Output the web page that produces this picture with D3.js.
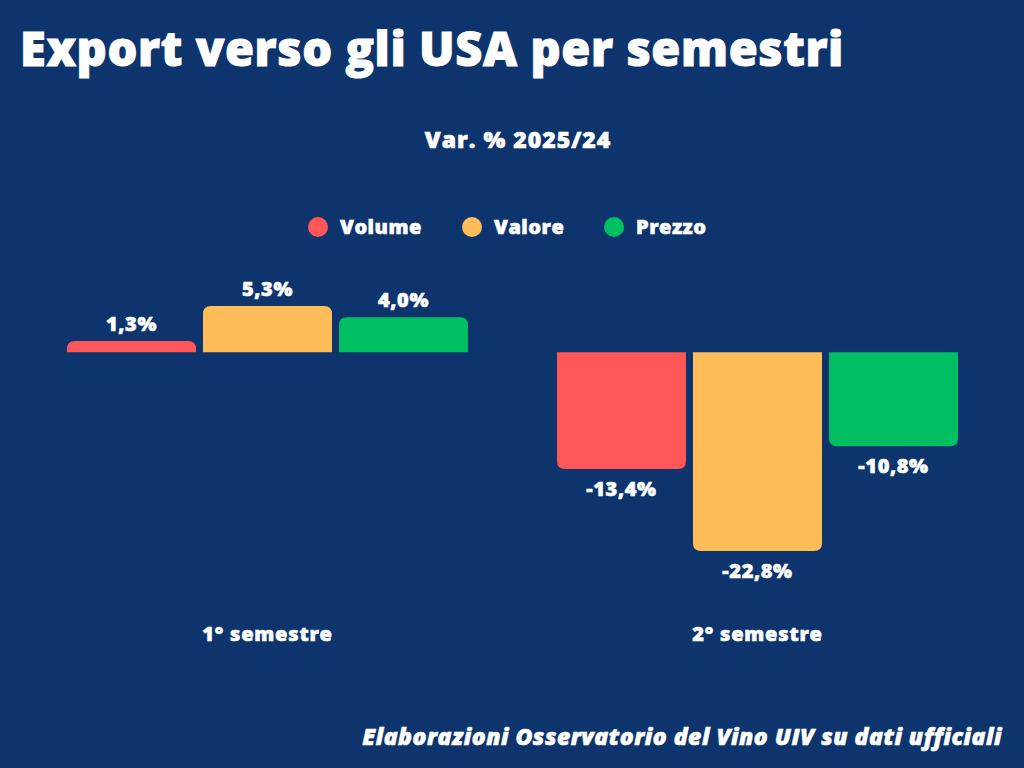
<!DOCTYPE html>
<html>
<head>
<meta charset="utf-8">
<script src="https://cdn.jsdelivr.net/npm/d3@7"></script>
<style>
  html, body { margin: 0; padding: 0; background: #0d346d; }
  svg { display: block; font-family: "Open Sans", sans-serif; }
  .t { fill: #fff; stroke: #fff; font-weight: 800; paint-order: stroke; }
</style>
</head>
<body>
<svg width="1024" height="768"></svg>
<script>
const semestri = ["1° semestre", "2° semestre"];
const serie = ["Volume", "Valore", "Prezzo"];
const colori = ["#ff5757", "#ffbd59", "#00bf63"];
// variazioni % per semestre, in ordine Volume, Valore, Prezzo
const primoSem = [1.3, 5.3, 4.0];
const secondoSem = [-13.4, -22.8, -10.8];

const valori = [primoSem, secondoSem];
const data = [];
semestri.forEach((s, i) => {
  serie.forEach((k, j) => data.push({sem: s, serie: k, value: valori[i][j]}));
});

const svg = d3.select("svg");
const W = 1024, H = 768;
svg.append("rect").attr("width", W).attr("height", H).attr("fill", "#0d346d");

// titolo
svg.append("text").classed("t", true)
  .attr("x", 20).attr("y", 66)
  .style("font-size", "47px").style("letter-spacing", "0.6px").style("stroke-width", "1px")
  .text("Export verso gli USA per semestri");

svg.append("text").classed("t", true)
  .attr("x", 518).attr("y", 148)
  .attr("text-anchor", "middle")
  .style("font-size", "23px").style("letter-spacing", "1px").style("stroke-width", "0.6px")
  .text("Var. % 2025/24");

// legenda
const legX = [318, 472, 614];
const leg = svg.append("g").selectAll("g").data(serie).enter().append("g")
  .attr("transform", (d, i) => `translate(${legX[i]},227)`);
leg.append("circle").attr("r", 10).attr("fill", (d, i) => colori[i]);
leg.append("text").classed("t", true)
  .attr("x", 22).attr("y", 7)
  .style("font-size", "20px").style("letter-spacing", "0.5px").style("stroke-width", "0.6px")
  .text(d => d);

// scale
const x0 = d3.scaleBand().domain(semestri).range([67, 958]).paddingInner(0.1816);
const x1 = d3.scaleBand().domain(serie).range([0, x0.bandwidth()]).paddingInner(0.0515);
const y = d3.scaleLinear().domain([-22.8, 5.3]).range([551, 306]);
const color = d3.scaleOrdinal().domain(serie).range(colori);

// barra con angoli arrotondati solo sul lato esterno
function barPath(d) {
  const x = x0(d.sem) + x1(d.serie), w = x1.bandwidth();
  const y0 = y(0), y1 = y(d.value);
  const r = Math.min(8, Math.abs(y1 - y0));
  const dir = d.value >= 0 ? 1 : -1;
  const p = d3.path();
  p.moveTo(x, y0);
  p.lineTo(x, y1 + dir * r);
  p.quadraticCurveTo(x, y1, x + r, y1);
  p.lineTo(x + w - r, y1);
  p.quadraticCurveTo(x + w, y1, x + w, y1 + dir * r);
  p.lineTo(x + w, y0);
  p.closePath();
  return p.toString();
}

svg.append("g").selectAll("path").data(data).enter().append("path")
  .attr("d", barPath)
  .attr("fill", d => color(d.serie));

const fmt = v => d3.format(".1f")(v).replace("−", "-").replace(".", ",") + "%";

svg.append("g").selectAll("text").data(data).enter().append("text").classed("t", true)
  .attr("x", d => x0(d.sem) + x1(d.serie) + x1.bandwidth() / 2)
  .attr("y", d => d.value >= 0 ? y(d.value) - 10 : y(d.value) + 27)
  .attr("text-anchor", "middle")
  .style("font-size", "20px").style("letter-spacing", "0.6px").style("stroke-width", "0.6px")
  .text(d => fmt(d.value));

// etichette semestri
svg.append("g").selectAll("text").data(semestri).enter().append("text").classed("t", true)
  .attr("x", d => x0(d) + x0.bandwidth() / 2)
  .attr("y", 641)
  .attr("text-anchor", "middle")
  .style("font-size", "20px").style("letter-spacing", "0.8px").style("stroke-width", "0.6px")
  .text(d => d);

// fonte
svg.append("text").classed("t", true)
  .attr("x", 1002).attr("y", 745)
  .attr("text-anchor", "end")
  .style("font-size", "23px").style("font-style", "italic")
  .style("letter-spacing", "0.5px").style("stroke-width", "0.6px")
  .text("Elaborazioni Osservatorio del Vino UIV su dati ufficiali");
</script>
</body>
</html>
